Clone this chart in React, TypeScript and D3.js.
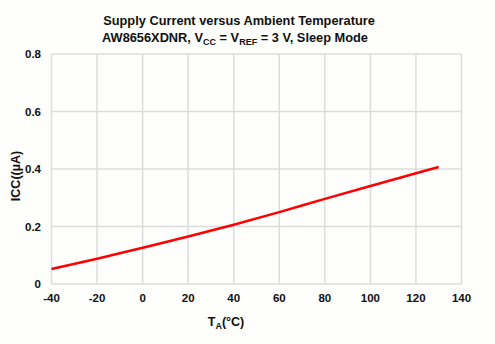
import React from "react";
import * as d3 from "d3";

const temps = [-40, -20, 0, 20, 40, 60, 80, 100, 120, 130];
const icc = [0.052, 0.088, 0.126, 0.165, 0.206, 0.25, 0.296, 0.341, 0.385, 0.407];
const xTicks = [-40, -20, 0, 20, 40, 60, 80, 100, 120, 140];
const yTicks = [0, 0.2, 0.4, 0.6, 0.8];
const yTickLabels = ["0", "0.2", "0.4", "0.6", "0.8"];

const W = 495;
const H = 344;
const left = 51.5;
const right = 461.5;
const top = 54;
const bottom = 284;

export default function App() {
  const x = d3.scaleLinear().domain([-40, 140]).range([left, right]);
  const y = d3.scaleLinear().domain([0, 0.8]).range([bottom, top]);
  const xGrid = d3.range(-40, 141, 20);
  const yGrid = d3.range(0, 0.81, 0.2);
  const line = d3
    .line<number>()
    .x((_, i) => x(temps[i]))
    .y((d) => y(d))
    .curve(d3.curveMonotoneX);
  const font = "'Liberation Sans', Arial, sans-serif";
  return (
    <svg
      width={W}
      height={H}
      style={{ position: "absolute", left: 0, top: 0, background: "#fefefc" }}
      fontFamily={font}
    >
      <rect x={0} y={0} width={W} height={H} fill="#fefefc" />
      <g stroke="#dcdcdc" strokeWidth={1.5}>
        {xGrid.map((t) => (
          <line key={"x" + t} x1={x(t)} x2={x(t)} y1={top} y2={bottom} />
        ))}
        {yGrid.map((v) => (
          <line key={"y" + v} x1={left} x2={right} y1={y(v)} y2={y(v)} />
        ))}
      </g>
      <path d={line(icc) || ""} fill="none" stroke="#ff0000" strokeWidth={2.5} />
      <g fontSize={11.5} fontWeight="bold" fill="#111">
        {yTicks.map((v, i) => (
          <text key={v} x={41} y={y(v) + 4} textAnchor="end">
            {yTickLabels[i]}
          </text>
        ))}
        {xTicks.map((t) => (
          <text key={t} x={x(t)} y={302} textAnchor="middle">
            {t}
          </text>
        ))}
      </g>
      <g fontWeight="bold" fill="#111" fontSize={12.8} textAnchor="middle">
        <text x={239} y={25}>Supply Current versus Ambient Temperature</text>
        <text x={235} y={42}>
          AW8656XDNR, V
          <tspan fontSize={9} dy={3}>CC</tspan>
          <tspan dy={-3}> = V</tspan>
          <tspan fontSize={9} dy={3}>REF</tspan>
          <tspan dy={-3}> = 3 V, Sleep Mode</tspan>
        </text>
      </g>
      <text x={226} y={326} fontWeight="bold" fontSize={12.5} fill="#111" textAnchor="middle">
        T<tspan fontSize={9} dy={3}>A</tspan>
        <tspan dy={-3}>(°C)</tspan>
      </text>
      <text
        transform={`translate(19.5,176) rotate(-90)`}
        fontWeight="bold"
        fontSize={12.5}
        fill="#111"
        textAnchor="middle"
      >
        ICC((µA)
      </text>
    </svg>
  );
}
